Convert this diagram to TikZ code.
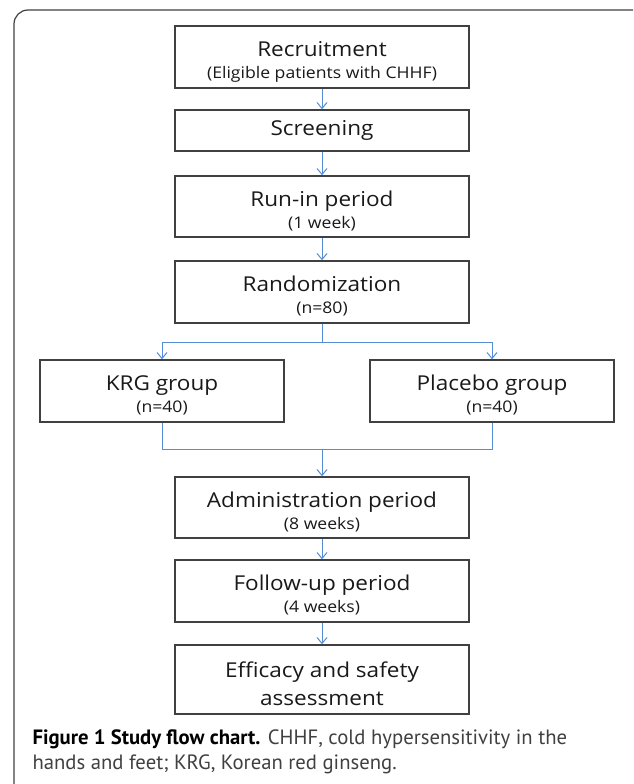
\documentclass[tikz,border=0pt]{standalone}
\usepackage{fontspec}
\setmainfont[FakeStretch=1.1]{Open Sans}
\newfontfamily\capfont{PT Sans}
\usetikzlibrary{arrows.meta}

\definecolor{linkblue}{RGB}{84,141,212}
\definecolor{boxgrey}{RGB}{64,64,64}
\definecolor{txtgrey}{RGB}{25,25,25}

\newcommand{\bigtxt}{\fontsize{20.5}{22}\selectfont}
\newcommand{\smalltxt}{\fontsize{16}{17}\selectfont}
\newcommand{\lift}{\rule{0pt}{24pt}}

\tikzset{
  flowbox/.style={draw=boxgrey, line width=1.5pt, minimum width=294pt, align=center,
    inner sep=0pt, text=txtgrey, font=\bigtxt},
  groupbox/.style={flowbox, minimum width=244pt},
  link/.style={draw=linkblue, line width=1pt, -{Straight Barb[length=6pt,width=10pt]}},
  joint/.style={draw=linkblue, line width=1pt},
}

\begin{document}
\begin{tikzpicture}[x=1pt,y=-1pt]
	\useasboundingbox (0,0) rectangle (633,784);
	\clip (0,0) rectangle (633,784);

	% frame of the figure
	\draw[boxgrey, line width=1.2pt, rounded corners=14pt] (14,820) -- (14,10) -- (660,10);

	\node[flowbox, minimum height=62pt] (recruit) at (322,57)
	  {\lift Recruitment\\ \smalltxt (Eligible patients with CHHF)};
	\node[flowbox, minimum height=41pt] (screen) at (322,130.5) {Screening};
	\node[flowbox, minimum height=61pt] (runin) at (322,206.5)
	  {\lift Run-in period\\ \smalltxt (1 week)};
	\node[flowbox, minimum height=62pt] (random) at (322,292)
	  {\lift Randomization\\ \smalltxt (n=80)};

	\node[groupbox, minimum height=62pt] (krg) at (162,391)
	  {\lift KRG group\\ \smalltxt (n=40)};
	\node[groupbox, minimum height=62pt] (placebo) at (492,391)
	  {\lift Placebo group\\ \smalltxt (n=40)};

	\node[flowbox, minimum height=61pt] (admin) at (322,507.5)
	  {\lift Administration period\\ \smalltxt (8 weeks)};
	\node[flowbox, minimum height=62pt] (follow) at (322,591)
	  {\lift Follow-up period\\ \smalltxt (4 weeks)};
	\node[flowbox, minimum height=69pt] (efficacy) at (322,679.5)
	  {\lift Efficacy and safety\\[6.5pt] assessment};

	\draw[link] (recruit) -- (screen);
	\draw[link] (screen) -- (runin);
	\draw[link] (runin) -- (random);

	% split and merge
	\coordinate (split) at (322,342);
	\coordinate (merge) at (322,449);
	\draw[joint] (random) -- (split);
	\foreach \grp in {krg,placebo} {
		\draw[link] (split) -| (\grp);
		\draw[joint] (\grp) |- (merge);
	}
	\draw[link] (merge) -- (admin);

	\draw[link] (admin) -- (follow);
	\draw[link] (follow) -- (efficacy);

	\node[anchor=west, align=left, text=boxgrey, font=\capfont\fontsize{20.7}{25}\selectfont] (caption) at (29,752)
	  {{\color{black}\bfseries Figure 1 Study flow chart.} CHHF, cold hypersensitivity in the\\
	   hands and feet; KRG, Korean red ginseng.};
\end{tikzpicture}
\end{document}
